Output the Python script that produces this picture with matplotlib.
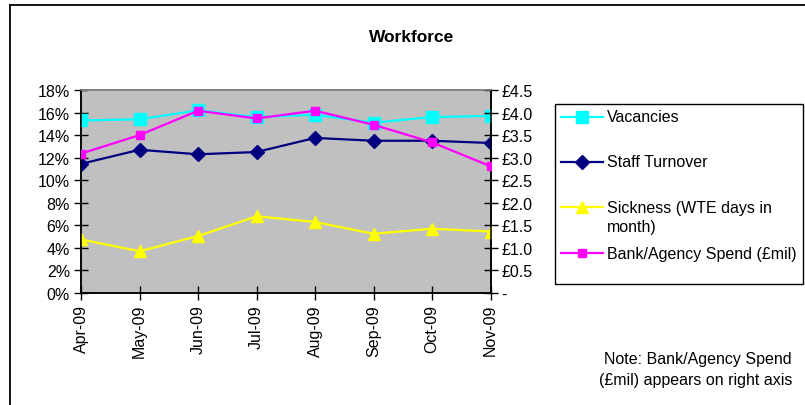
import matplotlib
matplotlib.use("Agg")
import matplotlib.pyplot as plt
from matplotlib.lines import Line2D
from matplotlib.patches import Rectangle
from matplotlib.ticker import FuncFormatter, MultipleLocator

plt.rcParams['font.family'] = ['Liberation Sans', 'DejaVu Sans']

months = ["Apr-09", "May-09", "Jun-09", "Jul-09", "Aug-09", "Sep-09", "Oct-09", "Nov-09"]
vacancies = [15.3, 15.4, 16.2, 15.6, 15.8, 15.1, 15.6, 15.7]          # %
staff_turnover = [11.45, 12.7, 12.3, 12.5, 13.75, 13.5, 13.5, 13.3]    # %
sickness = [4.75, 3.7, 5.05, 6.8, 6.3, 5.25, 5.7, 5.45]                # WTE days in month
bank_agency = [3.09, 3.5, 4.04, 3.87, 4.04, 3.73, 3.34, 2.81]          # £mil

W, H = 805, 406
fig = plt.figure(figsize=(W / 100, H / 100), dpi=100)


def fx(px):
    return px / W


def fy(py):
    return 1 - py / H


# outer frame (left and top edges)
fig.add_artist(Line2D([fx(10), fx(10)], [fy(6), fy(406)], color='black', lw=1.3,
                      transform=fig.transFigure))
fig.add_artist(Line2D([fx(10), fx(805)], [fy(6), fy(6)], color='black', lw=1.3,
                      transform=fig.transFigure))

ax = fig.add_axes([fx(81), fy(294), fx(490.5) - fx(81), fy(91) - fy(294)])
ax.set_facecolor('#C0C0C0')
x = list(range(len(months)))

ax.plot(x, vacancies, color='#00FFFF', lw=1.6, marker='s', ms=8, mec='#00FFFF', zorder=3)
ax.plot(x, staff_turnover, color='#000080', lw=1.6, marker='D', ms=7, mec='#000080', zorder=3)
ax.plot(x, sickness, color='#FFFF00', lw=1.6, marker='^', ms=8.5, mec='#FFFF00', zorder=3)

ax.set_xlim(0, len(months) - 1)
ax.set_ylim(0, 18)
ax.yaxis.set_major_locator(MultipleLocator(2))
ax.yaxis.set_major_formatter(FuncFormatter(lambda v, p: f"{v:.0f}%"))
ax.set_xticks(x)
ax.set_xticklabels(months, rotation=90, va='top', ha='center')
ax.tick_params(axis='both', direction='inout', length=10, width=1, labelsize=11.5, pad=3,
               color='black')

ax2 = ax.twinx()
ax2.plot(x, bank_agency, color='#FF00FF', lw=1.6, marker='s', ms=5.5, mec='#FF00FF', zorder=4)
ax2.set_ylim(0, 4.5)
ax2.yaxis.set_major_locator(MultipleLocator(0.5))
ax2.yaxis.set_major_formatter(FuncFormatter(lambda v, p: "-" if abs(v) < 1e-9 else f"£{v:.1f}"))
ax2.tick_params(axis='y', direction='inout', length=10, width=1, labelsize=11.5, pad=3)

for a in (ax, ax2):
    a.spines['top'].set_color('#808080')
    a.spines['left'].set_color('black')
    a.spines['right'].set_color('black')
    a.spines['bottom'].set_color('black')
    for s in a.spines.values():
        s.set_linewidth(1.1)

fig.text(fx(412), fy(38), "Workforce", ha='center', va='center', fontsize=12.5,
         fontweight='bold')

# legend box
fig.add_artist(Rectangle((fx(555), fy(285)), fx(803) - fx(555), fy(105) - fy(285),
                         transform=fig.transFigure, facecolor='white', edgecolor='black',
                         lw=1.0))
entries = [
    ("Vacancies", '#00FFFF', 's', 8, 118),
    ("Staff Turnover", '#000080', 'D', 7, 163),
    ("Sickness (WTE days in", '#FFFF00', '^', 8.5, 208),
    ("Bank/Agency Spend (£mil)", '#FF00FF', 's', 5.5, 254),
]
for label, col, mk, ms, py in entries:
    fig.add_artist(Line2D([fx(561), fx(603)], [fy(py), fy(py)], color=col, lw=1.6,
                          transform=fig.transFigure))
    fig.add_artist(Line2D([fx(582)], [fy(py)], color=col, marker=mk, ms=ms, mec=col,
                          transform=fig.transFigure))
    fig.text(fx(607), fy(py), label, ha='left', va='center', fontsize=11.5)
fig.text(fx(607), fy(228), "month)", ha='left', va='center', fontsize=11.5)

fig.text(fx(792), fy(360), "Note: Bank/Agency Spend", ha='right', va='center', fontsize=11.5)
fig.text(fx(792), fy(381), "(£mil) appears on right axis", ha='right', va='center',
         fontsize=11.5)

fig.savefig("out.png", dpi=100)
